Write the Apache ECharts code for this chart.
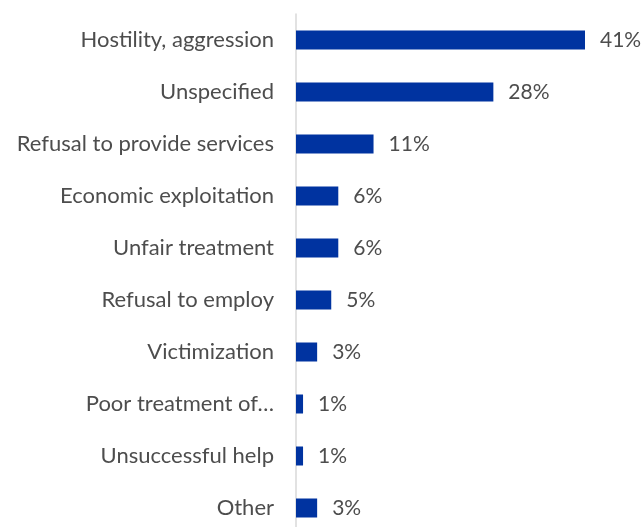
<!DOCTYPE html>
<html>
<head>
<meta charset="utf-8">
<script src="https://cdn.jsdelivr.net/npm/echarts@6/dist/echarts.min.js"></script>
<style>
  html, body { margin: 0; padding: 0; background: #fff; }
  #chart { width: 644px; height: 527px; }
</style>
</head>
<body>
<div id="chart"></div>
<script>
// Categories listed top to bottom
const categories = [
  'Hostility, aggression',
  'Unspecified',
  'Refusal to provide services',
  'Economic exploitation',
  'Unfair treatment',
  'Refusal to employ',
  'Victimization',
  'Poor treatment of\u2026',
  'Unsuccessful help',
  'Other'
];
// Share of reports, percent
const shares = [41, 28, 11, 6, 6, 5, 3, 1, 1, 3];

const textColor = '#4d4d4d';
const fontFamily = 'Lato, "Open Sans", sans-serif';

const chart = echarts.init(document.getElementById('chart'), null, { renderer: 'canvas' });
chart.setOption({
  animation: false,
  backgroundColor: '#ffffff',
  grid: {
    left: 296, top: 14, width: 289, height: 520,
    containLabel: false,
    outerBoundsMode: 'none'
  },
  xAxis: {
    type: 'value',
    min: 0,
    max: 41,
    show: false
  },
  yAxis: {
    type: 'category',
    inverse: true,
    data: categories,
    axisLine: { show: true, lineStyle: { color: '#d9d9d9', width: 1.5 } },
    axisTick: { show: false },
    axisLabel: {
      color: textColor,
      fontFamily: fontFamily,
      fontSize: 22,
      margin: 22
    }
  },
  series: [{
    type: 'bar',
    data: shares,
    barWidth: 19,
    itemStyle: { color: '#0033A0' },
    label: {
      show: true,
      position: 'right',
      distance: 15,
      formatter: p => p.value + '%',
      color: textColor,
      fontFamily: fontFamily,
      fontSize: 21
    }
  }]
});
</script>
</body>
</html>
